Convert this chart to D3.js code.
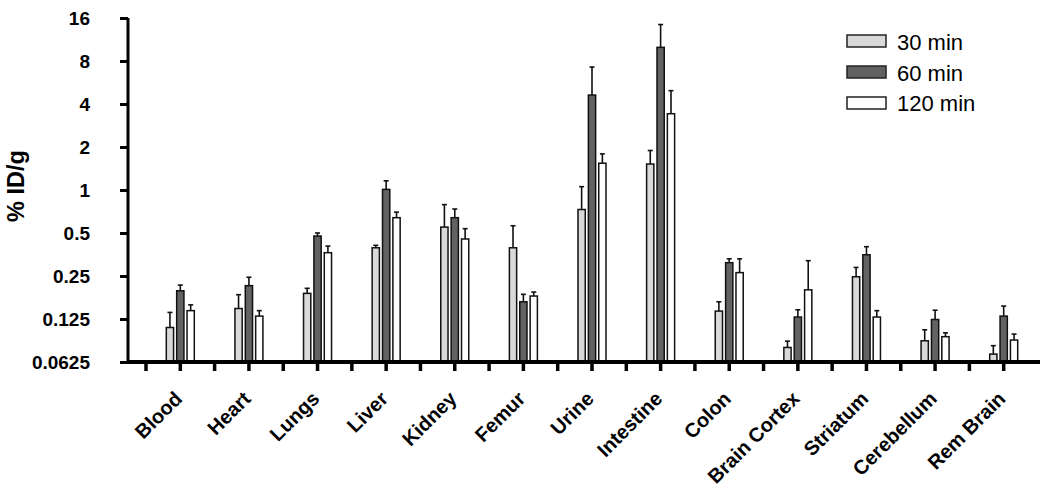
<!DOCTYPE html>
<html>
<head>
<meta charset="utf-8">
<script src="https://cdn.jsdelivr.net/npm/d3@7"></script>
<style>
  body { margin: 0; background: #fff; }
  svg { font-family: "Liberation Sans", Arial, sans-serif; }
</style>
</head>
<body>
<div id="chart"></div>
<script>
// Organ categories and time points
var organs = ["Blood", "Heart", "Lungs", "Liver", "Kidney", "Femur", "Urine", "Intestine",
  "Colon", "Brain Cortex", "Striatum", "Cerebellum", "Rem Brain"];
var times = ["30 min", "60 min", "120 min"];

// Mean %ID/g per organ
var mean30 = [0.109, 0.148, 0.189, 0.394, 0.55, 0.394, 0.73, 1.52, 0.142, 0.079, 0.247, 0.088, 0.071];
var mean60 = [0.197, 0.214, 0.476, 1.01, 0.64, 0.165, 4.62, 9.97, 0.31, 0.129, 0.352, 0.124, 0.131];
var mean120 = [0.143, 0.131, 0.364, 0.64, 0.454, 0.181, 1.54, 3.42, 0.264, 0.2, 0.129, 0.094, 0.089];

// Upper end of the error bars
var err30 = [0.139, 0.185, 0.205, 0.41, 0.79, 0.562, 1.055, 1.89, 0.165, 0.0875, 0.287, 0.105, 0.0813];
var err60 = [0.216, 0.245, 0.5, 1.16, 0.736, 0.186, 7.26, 14.4, 0.33, 0.145, 0.401, 0.144, 0.154];
var err120 = [0.157, 0.143, 0.405, 0.70, 0.536, 0.193, 1.79, 4.96, 0.33, 0.32, 0.143, 0.1, 0.098];

var yTicks = [0.0625, 0.125, 0.25, 0.5, 1, 2, 4, 8, 16];
var yTickLabels = ["0.0625", "0.125", "0.25", "0.5", "1", "2", "4", "8", "16"];

var fills = ["#d9d9d9", "#626262", "#ffffff"];

var svgWidth = 1050, svgHeight = 493;

var svg = d3.select("#chart").append("svg")
  .attr("width", svgWidth)
  .attr("height", svgHeight);

// Scales
var x = d3.scaleBand()
  .domain(organs)
  .range([146, 1038]);

var sub = d3.scaleBand()
  .domain(times)
  .range([0, 28])
  .paddingInner(0.3);

var y = d3.scaleLog()
  .base(2)
  .domain([0.0625, 16])
  .range([362, 18]);

// Build rows
var rows = [];
organs.forEach(function(o, i) {
  rows.push({ organ: o, time: times[0], v: mean30[i], e: err30[i], k: 0 });
  rows.push({ organ: o, time: times[1], v: mean60[i], e: err60[i], k: 1 });
  rows.push({ organ: o, time: times[2], v: mean120[i], e: err120[i], k: 2 });
});

var groupOffset = (x.bandwidth() - 28) / 2;

// Error bars
var errG = svg.append("g").attr("stroke", "#111").attr("stroke-width", 1.6);
rows.forEach(function(d) {
  var cx = x(d.organ) + groupOffset + sub(d.time) + sub.bandwidth() / 2;
  errG.append("line")
    .attr("x1", cx).attr("x2", cx)
    .attr("y1", y(d.v)).attr("y2", y(d.e));
  errG.append("line")
    .attr("x1", cx - 2.5).attr("x2", cx + 2.5)
    .attr("y1", y(d.e)).attr("y2", y(d.e));
});

// Bars
svg.append("g").selectAll("rect")
  .data(rows)
  .enter()
  .append("rect")
  .attr("x", d => x(d.organ) + groupOffset + sub(d.time))
  .attr("y", d => y(d.v))
  .attr("width", sub.bandwidth())
  .attr("height", d => y(0.0625) - y(d.v))
  .attr("fill", d => fills[d.k])
  .attr("stroke", "#111")
  .attr("stroke-width", 1.5);

// Y axis
var yAxis = d3.axisLeft(y)
  .tickValues(yTicks)
  .tickFormat((d, i) => yTickLabels[i])
  .tickSize(8)
  .tickPadding(30);

var yG = svg.append("g")
  .attr("transform", "translate(128,0)")
  .call(yAxis);
yG.select(".domain").attr("stroke", "#000").attr("stroke-width", 3)
  .attr("d", "M0," + y(16) + "V" + y(0.0625));
yG.selectAll(".tick line").attr("stroke", "#000").attr("stroke-width", 3);
yG.selectAll(".tick text")
  .attr("font-size", 19)
  .attr("font-weight", "bold")
  .attr("fill", "#000")
  .attr("font-family", "Liberation Sans, Arial, sans-serif");

// X axis line
svg.append("line")
  .attr("x1", 127).attr("x2", 1040)
  .attr("y1", 362).attr("y2", 362)
  .attr("stroke", "#000").attr("stroke-width", 4);

// X ticks at band starts and centres
var xTickPos = [];
organs.forEach(function(o) {
  xTickPos.push(x(o));
  xTickPos.push(x(o) + x.bandwidth() / 2);
});
svg.append("g").selectAll("line")
  .data(xTickPos)
  .enter()
  .append("line")
  .attr("x1", d => d).attr("x2", d => d)
  .attr("y1", 362).attr("y2", 371)
  .attr("stroke", "#000").attr("stroke-width", 3.5);

// X labels
svg.append("g").selectAll("text")
  .data(organs)
  .enter()
  .append("text")
  .attr("transform", d => "translate(" + (x(d) + x.bandwidth() / 2 + 3) + ",400) rotate(-45)")
  .attr("text-anchor", "end")
  .attr("font-size", 20)
  .attr("font-weight", "bold")
  .text(d => d);

// Y label
svg.append("text")
  .attr("transform", "translate(24,186) rotate(-90)")
  .attr("text-anchor", "middle")
  .attr("font-size", 23.5)
  .attr("font-weight", "bold")
  .text("% ID/g");

// Legend
var legend = svg.append("g").attr("transform", "translate(847,35)");
times.forEach(function(t, i) {
  legend.append("rect")
    .attr("x", 0).attr("y", i * 31)
    .attr("width", 39).attr("height", 12)
    .attr("fill", fills[i])
    .attr("stroke", "#222").attr("stroke-width", 1.5);
  legend.append("text")
    .attr("x", 50).attr("y", i * 30.5 + 15)
    .attr("font-size", 22)
    .text(t);
});
</script>
</body>
</html>
